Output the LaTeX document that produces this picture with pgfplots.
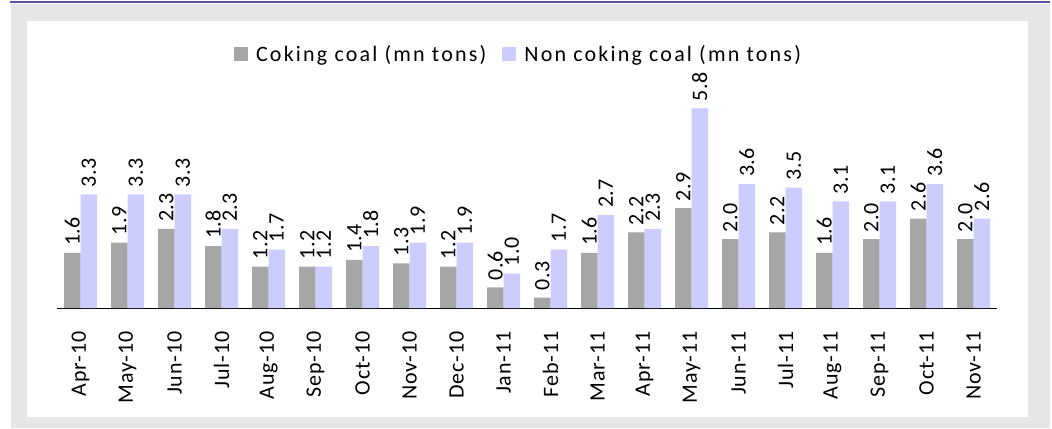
\documentclass[border=0pt]{standalone}
\usepackage{pgfplots}
\pgfplotsset{compat=1.18}
\usepackage{fontspec}
\setmainfont{Carlito}
\newfontfamily\lblfont{Carlito}[LetterSpace=4]
\newfontfamily\valfont{Carlito}[LetterSpace=2]
\newfontfamily\legfont{Carlito}[LetterSpace=10]
\definecolor{cgray}{RGB}{166,166,166}
\definecolor{clav}{RGB}{204,204,255}
\definecolor{framegray}{RGB}{230,230,230}
\definecolor{topline}{RGB}{90,80,165}
\begin{document}
\begin{tikzpicture}[x=1bp,y=1bp]
\useasboundingbox (0,0) rectangle (1052,428);
\fill[framegray] (11,0) rectangle (1050,424);
\fill[white] (27,11) rectangle (1028,407);
\draw[topline, line width=2bp] (10,425.5) -- (1050,425.5);
\begin{axis}[
  at={(57bp,120bp)}, anchor=south west,
  scale only axis, width=940bp, height=223.6bp,
  xmin=-0.5, xmax=19.5, ymin=0, ymax=6.5,
  ybar=0pt, bar width=16.5bp,
  axis y line=none, axis x line=bottom,
  axis line style={-, black, line width=0.8bp},
  xtick={0,...,19},
  xticklabels={Apr-10,May-10,Jun-10,Jul-10,Aug-10,Sep-10,Oct-10,Nov-10,Dec-10,Jan-11,Feb-11,Mar-11,Apr-11,May-11,Jun-11,Jul-11,Aug-11,Sep-11,Oct-11,Nov-11},
  xtick style={draw=none},
  xticklabel shift=21bp,
  xticklabel style={rotate=90, anchor=east, inner sep=0pt, font=\lblfont\fontsize{22bp}{26bp}\selectfont},
  clip=false,
  nodes near coords={\pgfmathprintnumber[fixed,fixed zerofill,precision=1,assume math mode=true]{\pgfplotspointmeta}},
  every node near coord/.append style={yshift=7bp, rotate=90, anchor=west, inner sep=0pt, font=\valfont\fontsize{22bp}{26bp}\selectfont, text=black},
  legend columns=2,
  legend style={at={(0.491,1.136)}, anchor=center, draw=none, fill=none,
    font=\legfont\fontsize{22bp}{26bp}\selectfont,
    /tikz/every even column/.append style={column sep=14bp}},
  legend image code/.code={\fill[#1] (0bp,-7bp) rectangle (14bp,7bp); \path (20bp,0bp);},
]
\addplot[fill=cgray, draw=none] coordinates {
(0,1.6) (1,1.9) (2,2.3) (3,1.8) (4,1.2) (5,1.2) (6,1.4) (7,1.3) (8,1.2) (9,0.6)
(10,0.3) (11,1.6) (12,2.2) (13,2.9) (14,2.0) (15,2.2) (16,1.6) (17,2.0) (18,2.6) (19,2.0)};
\addplot[fill=clav, draw=none] coordinates {
(0,3.3) (1,3.3) (2,3.3) (3,2.3) (4,1.7) (5,1.2) (6,1.8) (7,1.9) (8,1.9) (9,1.0)
(10,1.7) (11,2.7) (12,2.3) (13,5.8) (14,3.6) (15,3.5) (16,3.1) (17,3.1) (18,3.6) (19,2.6)};
\legend{Coking coal (mn tons), Non coking coal (mn tons)}
\end{axis}
\end{tikzpicture}
\end{document}
